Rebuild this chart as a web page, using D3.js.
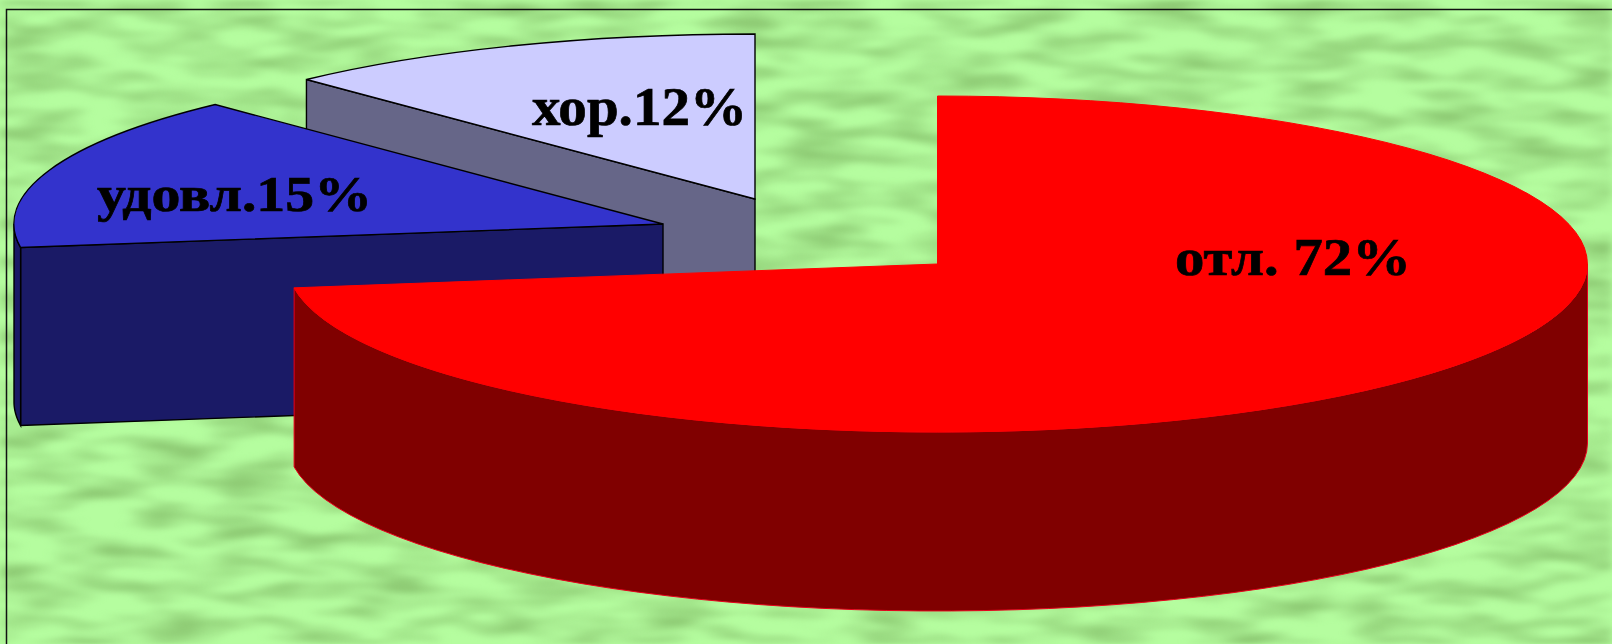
<!DOCTYPE html>
<html>
<head>
<meta charset="utf-8">
<script src="https://cdn.jsdelivr.net/npm/d3@7"></script>
<style>
  html, body { margin: 0; padding: 0; background: #b4fb9f; overflow: hidden; }
  text { font-family: "Liberation Serif", serif; font-weight: bold; fill: #000; stroke: #000; stroke-width: 0.7; }
</style>
</head>
<body>
<svg id="chart" width="1612" height="644"></svg>
<script>
// chart data
var categories = ['отл.', 'удовл.', 'хор.'];
var values = [72, 15, 12];
var labels = ['отл. 72%', 'удовл.15%', 'хор.12%'];

var width = 1612, height = 644;
var svg = d3.select('#chart');

// background texture, stretched noise over light green
var defs = svg.append('defs');
var tex = defs.append('filter').attr('id', 'texture')
  .attr('x', 0).attr('y', 0).attr('width', '100%').attr('height', '100%')
  .attr('color-interpolation-filters', 'sRGB');
tex.append('feTurbulence')
  .attr('type', 'fractalNoise')
  .attr('baseFrequency', '0.014 0.055')
  .attr('numOctaves', 2)
  .attr('seed', 7);
tex.append('feColorMatrix')
  .attr('values', '0 0 0 0 0.56  0 0 0 0 0.80  0 0 0 0 0.46  2.4 0 0 0 -0.9');
tex.append('feGaussianBlur').attr('stdDeviation', '5 2');
defs.append('filter').attr('id', 'soft')
  .append('feGaussianBlur').attr('stdDeviation', 0.5);

svg.append('rect').attr('width', width).attr('height', height).attr('fill', '#b5fd9f');
svg.append('rect').attr('width', width).attr('height', height).attr('filter', 'url(#texture)');

// frame, only top and left sides
svg.append('path')
  .attr('d', d3.line()([[6.5, height], [6.5, 9.5], [width, 9.5]]))
  .attr('fill', 'none').attr('stroke', '#111').attr('stroke-width', 1.5);

// angles come from the pie layout, 72+15+12 is normalised to the full circle
var pie = d3.pie().sort(null)(values);

// each slice is pulled out to its own place
var slices = [
  { cx: 937.5, cy: 264, rx: 650, ry: 168, depth: 179, top: '#ff0000', side: '#800000', line: '#e8001c', labelX: 1175, labelY: 275, size: 53.5, labelW: 236 },
  { cx: 663, cy: 224, rx: 649, ry: 165, depth: 178, top: '#3333cc', side: '#1a1a66', line: '#000', labelX: 97, labelY: 211, size: 51, labelW: 275 },
  { cx: 755, cy: 199, rx: 650, ry: 165, depth: 178, top: '#ccccff', side: '#666688', line: '#000', labelX: 532, labelY: 125, size: 55, labelW: 215 }
];

slices.forEach(function(s, i) {
  s.x = d3.scaleLinear().domain([-1, 1]).range([s.cx - s.rx, s.cx + s.rx]);
  s.y = d3.scaleLinear().domain([-1, 1]).range([s.cy - s.ry, s.cy + s.ry]);
  s.start = pie[i].startAngle;
  s.end = pie[i].endAngle;
});

var arc = d3.arc().innerRadius(0).outerRadius(1);

function outerWall(s, from, to) {
  var steps = d3.range(0, 61).map(function(k) { return from + (to - from) * k / 60; });
  return d3.area()
    .x(function(a) { return s.x(Math.sin(a)); })
    .y0(function(a) { return s.y(-Math.cos(a)); })
    .y1(function(a) { return s.y(-Math.cos(a)) + s.depth; })(steps);
}

function radialWall(s, a) {
  var px = s.x(Math.sin(a)), py = s.y(-Math.cos(a));
  return d3.line()([[s.cx, s.cy], [px, py], [px, py + s.depth], [s.cx, s.cy + s.depth]]) + 'Z';
}

// back to front: light slice, blue slice, red slice
[2, 1, 0].forEach(function(i) {
  var s = slices[i];
  var g = svg.append('g').attr('class', 'slice').datum(pie[i]);
  var edge = i === 0 ? 1 : 1.4;

  if (i > 0) {
    g.append('path').attr('d', radialWall(s, s.start))
      .attr('fill', s.side).attr('stroke', s.line).attr('stroke-width', edge);
  }
  if (i === 1) {
    g.append('path').attr('d', outerWall(s, s.start, 1.5 * Math.PI))
      .attr('fill', s.side).attr('stroke', s.line).attr('stroke-width', edge);
  }
  if (i === 0) {
    g.append('path').attr('d', outerWall(s, Math.PI / 2, s.end))
      .attr('fill', s.side).attr('stroke', s.line).attr('stroke-width', edge);
  }

  g.append('path')
    .attr('d', arc)
    .attr('transform', 'translate(' + s.cx + ',' + s.cy + ') scale(' + s.rx + ',' + s.ry + ')')
    .attr('fill', s.top)
    .attr('stroke', i === 0 ? s.top : s.line)
    .attr('stroke-width', edge)
    .attr('vector-effect', 'non-scaling-stroke');
});

// labels go last so the red slice can't cover them
slices.forEach(function(s, i) {
  svg.append('text')
    .attr('x', s.labelX)
    .attr('y', s.labelY)
    .attr('font-size', s.size)
    .attr('textLength', s.labelW)
    .attr('lengthAdjust', 'spacingAndGlyphs')
    .attr('filter', 'url(#soft)')
    .text(labels[i]);
});
</script>
</body>
</html>
